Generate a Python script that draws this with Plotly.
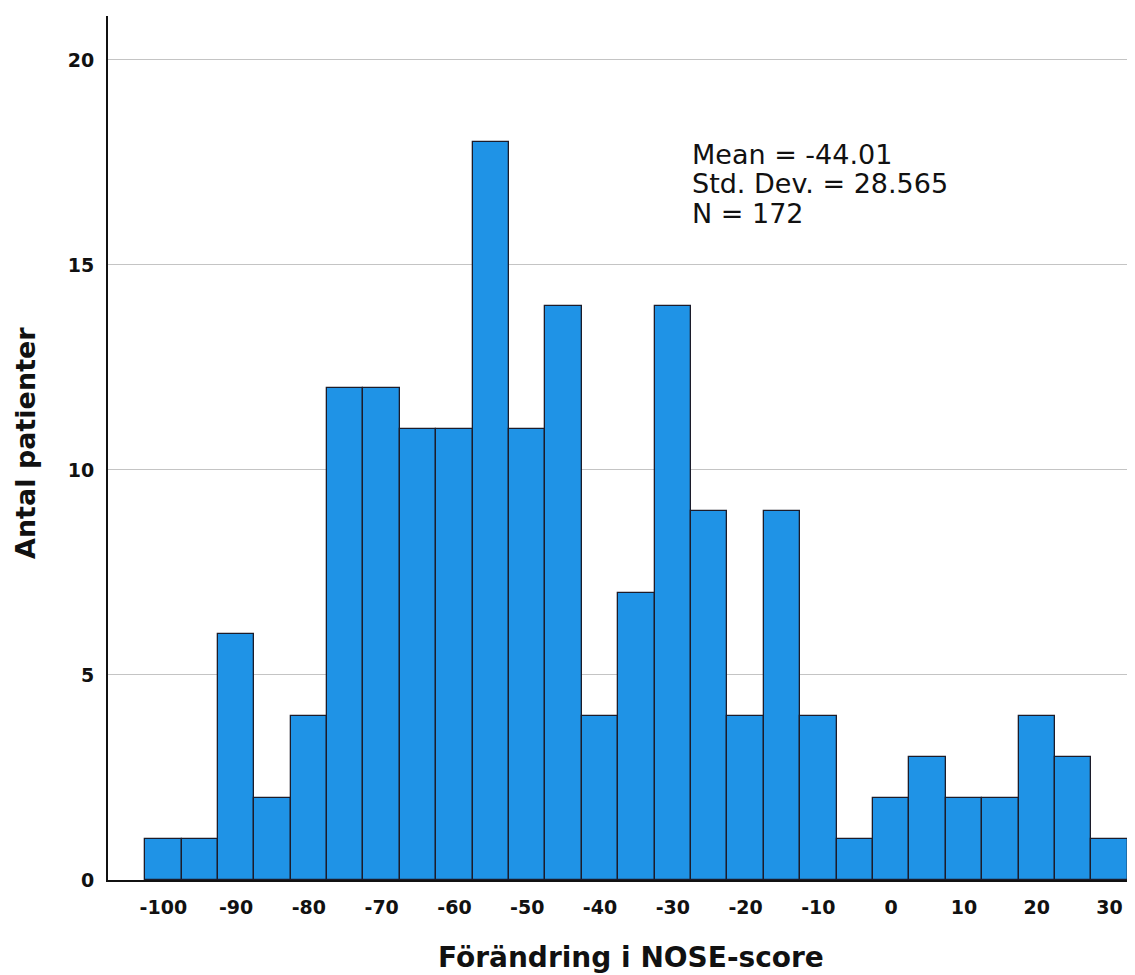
import plotly.graph_objects as go

# Bin centers (NOSE-score change) and counts
bin_centers = [-100, -95, -90, -85, -80, -75, -70, -65, -60, -55, -50, -45, -40,
               -35, -30, -25, -20, -15, -10, -5, 0, 5, 10, 15, 20, 25, 30]
counts = [1, 1, 6, 2, 4, 12, 12, 11, 11, 18, 11, 14, 4,
          7, 14, 9, 4, 9, 4, 1, 2, 3, 2, 2, 4, 3, 1]
bin_width = 5

x_ticks = [-100, -90, -80, -70, -60, -50, -40, -30, -20, -10, 0, 10, 20, 30]
y_ticks = [0, 5, 10, 15, 20]

stats_lines = ["Mean = -44.01", "Std. Dev. = 28.565", "N = 172"]

x_title = "Förändring i NOSE-score"
y_title = "Antal patienter"

FONT = "DejaVu Sans, Liberation Sans, Arial, sans-serif"

# page body has an 8px margin: figure origin sits at (8, 8) in the window
OFF = 8
W, H = 1135 - OFF, 975 - OFF
L, R, T, B = 108 - OFF, 0, 16 - OFF, 975 - 880
PW, PH = W - L - R, H - T - B


def px_to_paper(px, py):
    """window pixel -> paper coords"""
    return (px - OFF - L) / PW, (H - B - (py - OFF)) / PH


fig = go.Figure()
fig.add_trace(go.Bar(
    x=bin_centers,
    y=counts,
    width=[bin_width] * len(bin_centers),
    marker=dict(color="#1f93e6", line=dict(color="#1c1c2a", width=1.3)),
    hoverinfo="x+y",
))

fig.update_layout(
    width=W,
    height=H,
    margin=dict(l=L, r=R, t=T, b=B),
    paper_bgcolor="white",
    plot_bgcolor="white",
    showlegend=False,
    bargap=0,
    font=dict(family=FONT, color="#111111"),
)

fig.update_xaxes(
    range=[-107.6, 33.5],
    tickmode="array",
    tickvals=x_ticks,
    ticktext=[str(v) for v in x_ticks],
    tickfont=dict(family=FONT, size=19, color="#111111", weight="bold"),
    showgrid=False,
    zeroline=False,
    showline=True,
    linecolor="#111111",
    linewidth=2,
    ticks="outside",
    ticklen=9,
    tickcolor="rgba(0,0,0,0)",
)

fig.update_yaxes(
    range=[0, 21.07],
    tickmode="array",
    tickvals=y_ticks,
    ticktext=[str(v) for v in y_ticks],
    tickfont=dict(family=FONT, size=19, color="#111111", weight="bold"),
    showgrid=True,
    gridcolor="#c4c4c4",
    gridwidth=1,
    zeroline=False,
    showline=True,
    linecolor="#111111",
    linewidth=2,
    ticks="outside",
    ticklen=8,
    tickcolor="rgba(0,0,0,0)",
)

annotations = []
# Stats text block
line_centers_px = [154, 184, 214]
for txt, cy in zip(stats_lines, line_centers_px):
    ax, ay = px_to_paper(690, cy)
    annotations.append(dict(
        text=txt, xref="paper", yref="paper",
        x=ax, y=ay,
        xanchor="left", yanchor="middle", showarrow=False,
        font=dict(family=FONT, size=27, color="#111111"),
    ))

# Axis titles
ax, ay = px_to_paper(631, 957)
annotations.append(dict(
    text=f"<b>{x_title}</b>", xref="paper", yref="paper",
    x=ax, y=ay,
    xanchor="center", yanchor="middle", showarrow=False,
    font=dict(family=FONT, size=28, color="#111111"),
))
ax, ay = px_to_paper(26, 443)
annotations.append(dict(
    text=f"<b>{y_title}</b>", xref="paper", yref="paper",
    x=ax, y=ay,
    xanchor="center", yanchor="middle", showarrow=False, textangle=-90,
    font=dict(family=FONT, size=27, color="#111111"),
))
fig.update_layout(annotations=annotations)

fig.write_html("out.html")
